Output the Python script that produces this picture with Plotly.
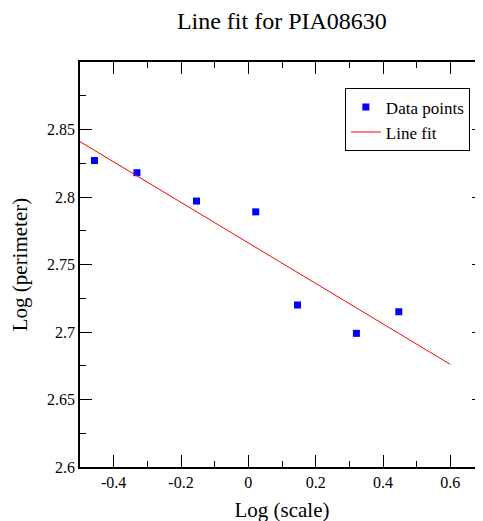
import plotly.graph_objects as go

# log(scale) vs log(perimeter) readings
scale_log = [-0.457, -0.331, -0.154, 0.022, 0.146, 0.321, 0.447]
perimeter_log = [2.827, 2.818, 2.797, 2.789, 2.720, 2.699, 2.715]

# least squares line as drawn (end points)
fit_x = [-0.5, 0.6]
fit_y = [2.841, 2.676]

serif = "Liberation Serif, Times New Roman, serif"

fig = go.Figure()
fig.add_trace(go.Scatter(x=scale_log, y=perimeter_log, mode="markers", name="Data points",
                         marker=dict(symbol="square", size=7, color="#0000ff")))
fig.add_trace(go.Scatter(x=fit_x, y=fit_y, mode="lines", name="Line fit",
                         line=dict(color="#ff0000", width=1)))
# empty trace so the right-hand tick axis gets drawn
fig.add_trace(go.Scatter(x=[], y=[], yaxis="y2", showlegend=False, hoverinfo="skip"))

axis_style = dict(showgrid=False, zeroline=False, showline=True, linecolor="black", linewidth=1.5,
                  ticks="inside", ticklen=12, tickcolor="black", tickwidth=1, automargin=False,
                  tickfont=dict(family=serif, size=16, color="black"))

# page body adds 8px, margins are compensated for it
fig.update_layout(
    width=483, height=521,
    margin=dict(l=72, r=7, t=54, b=62),
    paper_bgcolor="white", plot_bgcolor="white",
    font=dict(family=serif, color="black"),
    title=dict(text="Line fit for PIA08630", x=0.567, xanchor="center", y=0.975, yanchor="middle",
               yref="container", font=dict(family=serif, size=24, color="black")),
    xaxis=dict(range=[-0.5, 0.7], tickvals=[-0.4, -0.2, 0, 0.2, 0.4, 0.6],
               ticktext=["-0.4", "-0.2", "0", "0.2", "0.4", "0.6"], mirror="ticks",
               minor=dict(dtick=0.1, ticks="inside", ticklen=6, tickcolor="black"),
               title=dict(text="Log (scale)", font=dict(family=serif, size=21), standoff=12),
               **axis_style),
    yaxis=dict(range=[2.6, 2.9], tickvals=[2.6, 2.65, 2.7, 2.75, 2.8, 2.85],
               ticktext=["2.6", "2.65", "2.7", "2.75", "2.8", "2.85"],
               minor=dict(dtick=0.025, ticks="inside", ticklen=6, tickcolor="black"),
               title=dict(text="Log (perimeter)", font=dict(family=serif, size=21), standoff=14),
               **axis_style),
    yaxis2=dict(range=[2.6, 2.9], overlaying="y", side="right", showgrid=False, zeroline=False,
                showline=False, showticklabels=False, ticks="inside", ticklen=12, tickcolor="black",
                tickvals=[2.6, 2.65, 2.7, 2.75, 2.8, 2.85], automargin=False,
                minor=dict(dtick=0.025, ticks="inside", ticklen=6, tickcolor="black")),
    legend=dict(x=0.965, xanchor="right", y=0.935, yanchor="top", bgcolor="white",
                bordercolor="black", borderwidth=1, tracegroupgap=0,
                font=dict(family=serif, size=17, color="black")),
    showlegend=True,
)

fig.write_html("out.html")
